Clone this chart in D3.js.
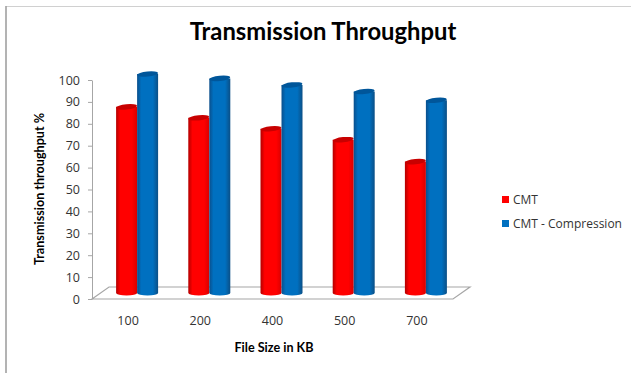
<!DOCTYPE html>
<html>
<head>
<meta charset="utf-8">
<script src="https://cdn.jsdelivr.net/npm/d3@7"></script>
<style>
  html, body { margin: 0; padding: 0; background: #fff; }
  svg { display: block; }
  text { fill: #333; font-family: "Open Sans", sans-serif; }
</style>
</head>
<body>
<script>
/* global d3 */
(function () {
  'use strict'

  var fileSizes = ['100', '200', '400', '500', '700']
  var cmt = [85, 80, 75, 70, 60]
  var cmtCompression = [100, 98, 95, 92, 88]
  var yTicks = [0, 10, 20, 30, 40, 50, 60, 70, 80, 90, 100]
  var seriesNames = ['CMT', 'CMT - Compression']

  var dim = { w: 631, h: 373 }
  var plot = { left: 92, right: 453, top: 80, bottom: 299 }
  // how far the bars sit back from the front of the floor
  var depth = { x: 9, y: -6, floorX: 17, floorY: -12 }
  var barW = 21

  var x = d3.scaleBand().domain(fileSizes).range([plot.left, plot.right])
  var y = d3.scaleLinear().domain([0, 100]).range([plot.bottom, plot.top])

  var svg = d3.select('body').append('svg')
    .attr('width', dim.w)
    .attr('height', dim.h)

  addGradient('redBar', ['#b30000', '#ff0000', '#ff0000', '#d90000'])
  addGradient('blueBar', ['#0a4f8c', '#0070c0', '#0070c0', '#0b4f86'])

  drawFrame()
  drawFloor()
  drawAxes()
  drawBars(cmt, 0, 'redBar', '#c80000')
  drawBars(cmtCompression, 1, 'blueBar', '#00569a')
  drawTitles()
  drawLegend()

  function addGradient (id, colors) {
    var g = svg.append('defs').append('linearGradient').attr('id', id)
    var stops = [0, 0.2, 0.75, 1]
    colors.forEach(function (c, i) {
      g.append('stop').attr('offset', stops[i]).attr('stop-color', c)
    })
  }

  function drawFrame () {
    svg.append('path')
      .attr('d', 'M6,6.5H631')
      .attr('fill', 'none')
      .attr('stroke', '#d0d0d0')
    svg.append('path')
      .attr('d', 'M6,6V373')
      .attr('stroke', '#a0a0a0')
      .attr('stroke-width', 1.6)
  }

  function drawFloor () {
    var d = depth
    svg.append('path')
      .attr('d', 'M' + plot.left + ',' + plot.bottom +
        'L' + (plot.left + d.floorX) + ',' + (plot.bottom + d.floorY) +
        'H' + (plot.right + d.floorX) +
        'L' + plot.right + ',' + plot.bottom + 'Z')
      .attr('fill', '#fff')
      .attr('stroke', '#a6a6a6')
      .attr('stroke-width', 1.2)
  }

  function drawAxes () {
    var axis = d3.axisLeft(y).tickValues(yTicks).tickSize(4).tickSizeOuter(0)
    var g = svg.append('g')
      .attr('transform', 'translate(' + plot.left + ',0)')
      .call(axis)
    g.select('.domain').attr('stroke', '#a6a6a6')
    g.selectAll('.tick line').attr('stroke', '#a6a6a6')
    g.selectAll('.tick text')
      .attr('x', -12)
      .style('font-size', '12.5px')
      .style('fill', '#333')

    svg.append('g').selectAll('text')
      .data(fileSizes)
      .enter().append('text')
      .attr('x', function (d) { return x(d) + x.bandwidth() / 2 })
      .attr('y', 325)
      .attr('text-anchor', 'middle')
      .style('font-size', '12.5px')
      .text(function (d) { return d })
  }

  function drawBars (values, idx, fill, topFill) {
    var g = svg.append('g')
    var rx = barW / 2
    var ry = 2.6
    values.forEach(function (v, i) {
      var cx = x(fileSizes[i]) + x.bandwidth() / 2 + depth.x + (idx - 0.5) * barW
      var top = y(v) + depth.y
      var base = y(0) + depth.y
      g.append('path')
        .attr('d', 'M' + (cx - rx) + ',' + top +
          'V' + base +
          'A' + rx + ',' + ry + ' 0 0 0 ' + (cx + rx) + ',' + base +
          'V' + top + 'Z')
        .attr('fill', 'url(#' + fill + ')')
      g.append('ellipse')
        .attr('cx', cx)
        .attr('cy', top)
        .attr('rx', rx)
        .attr('ry', ry)
        .attr('fill', topFill)
        .attr('transform', 'rotate(-6 ' + cx + ' ' + top + ')')
    })
  }

  function drawTitles () {
    svg.append('text')
      .attr('x', 323)
      .attr('y', 40)
      .attr('text-anchor', 'middle')
      .style('font-family', 'Lato, sans-serif')
      .style('font-weight', 700)
      .style('font-size', '23.8px')
      .style('fill', '#000')
      .text('Transmission Throughput')

    svg.append('text')
      .attr('x', 274)
      .attr('y', 352)
      .attr('text-anchor', 'middle')
      .style('font-family', 'Lato, sans-serif')
      .style('font-weight', 700)
      .style('font-size', '12.6px')
      .style('fill', '#000')
      .text('File Size in KB')

    svg.append('text')
      .attr('transform', 'translate(44,189) rotate(-90)')
      .attr('text-anchor', 'middle')
      .style('font-family', 'Lato, sans-serif')
      .style('font-weight', 700)
      .style('font-size', '12.6px')
      .style('fill', '#000')
      .text('Transmission throughput %')
  }

  function drawLegend () {
    var colors = ['#ff0000', '#0070c0']
    var rows = svg.append('g').selectAll('g')
      .data(seriesNames)
      .enter().append('g')
      .attr('transform', function (d, i) {
        return 'translate(502,' + (196 + i * 24) + ')'
      })
    rows.append('rect')
      .attr('width', 7)
      .attr('height', 7)
      .attr('fill', function (d, i) { return colors[i] })
    rows.append('text')
      .attr('x', 11)
      .attr('y', 8)
      .style('font-size', '12px')
      .text(function (d) { return d })
  }
}())
</script>
</body>
</html>
